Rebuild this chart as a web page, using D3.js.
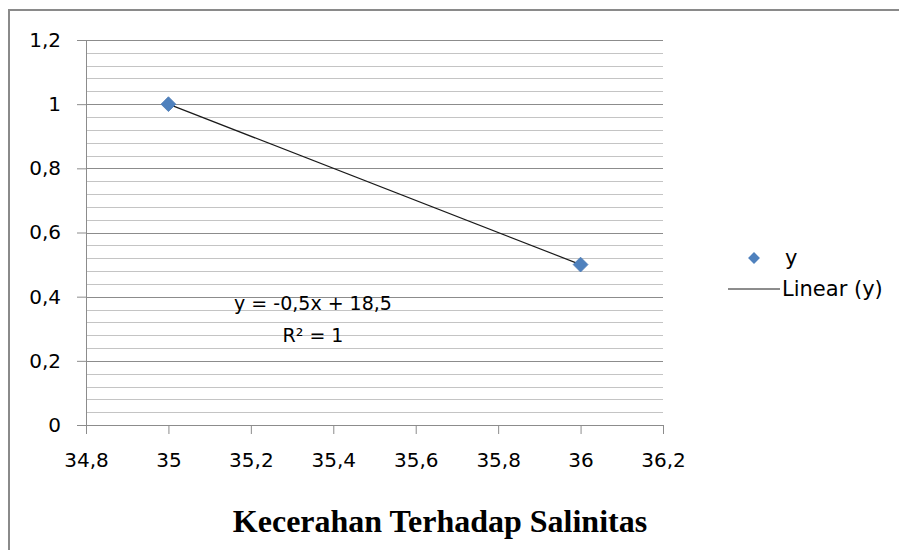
<!DOCTYPE html>
<html>
<head>
<meta charset="utf-8">
<script src="https://cdn.jsdelivr.net/npm/d3@7"></script>
<style>
  body { margin: 0; background: #fff; }
  svg { display: block; }
  .tick text { font-family: "DejaVu Sans", sans-serif; font-size: 20px; fill: #000; }
</style>
</head>
<body>
<svg id="chart"></svg>
<script>
// data
const xValues = [35, 36];
const yValues = [1, 0.5];
const seriesName = 'y';
const trendName = 'Linear (y)';
const xTicks = [34.8, 35, 35.2, 35.4, 35.6, 35.8, 36, 36.2];
const yTicks = [0, 0.2, 0.4, 0.6, 0.8, 1, 1.2];
const chartTitle = 'Kecerahan Terhadap Salinitas';

const width = 899, height = 550;
const margin = { top: 40, right: 236, bottom: 125, left: 86 };

const svg = d3.select('#chart')
    .attr('width', width)
    .attr('height', height);

// outer chart frame (cut by the window on the right and bottom)
svg.append('rect')
    .attr('x', 9).attr('y', 10)
    .attr('width', width + 10).attr('height', height + 10)
    .attr('fill', 'none')
    .attr('stroke', '#8a8a8a')
    .attr('stroke-width', 2);

const x = d3.scaleLinear()
    .domain([xTicks[0], xTicks[xTicks.length - 1]])
    .range([margin.left, width - margin.right]);

const y = d3.scaleLinear()
    .domain([yTicks[0], yTicks[yTicks.length - 1]])
    .range([height - margin.bottom, margin.top]);

const locale = d3.formatLocale({ decimal: ',', thousands: '.', grouping: [3], currency: ['', ''], minus: '-' });
const fmt = locale.format('~f');

// minor gridlines every 0.04
const minor = d3.range(0, 1.2 + 1e-9, 0.04)
    .filter(v => !yTicks.some(t => Math.abs(t - v) < 1e-6));

svg.append('g')
    .selectAll('line')
    .data(minor)
    .join('line')
    .attr('x1', x.range()[0]).attr('x2', x.range()[1])
    .attr('y1', d => Math.round(y(d)) + 0.5)
    .attr('y2', d => Math.round(y(d)) + 0.5)
    .attr('stroke', '#c4c4c4');

// major gridlines
svg.append('g')
    .selectAll('line')
    .data(yTicks.slice(1))
    .join('line')
    .attr('x1', x.range()[0]).attr('x2', x.range()[1])
    .attr('y1', d => Math.round(y(d)) + 0.5)
    .attr('y2', d => Math.round(y(d)) + 0.5)
    .attr('stroke', '#8c8c8c');

// axes
const yAxis = svg.append('g')
    .attr('transform', `translate(${x.range()[0]},0)`)
    .call(d3.axisLeft(y).tickValues(yTicks).tickSize(9).tickPadding(16).tickFormat(fmt));

const xAxis = svg.append('g')
    .attr('transform', `translate(0,${y.range()[0]})`)
    .call(d3.axisBottom(x).tickValues(xTicks).tickSize(9).tickPadding(19).tickFormat(fmt));

[yAxis, xAxis].forEach(a => {
    a.select('.domain').attr('stroke', '#8c8c8c');
    a.selectAll('.tick line').attr('stroke', '#8c8c8c');
});

// least squares trendline through the points
const mx = d3.mean(xValues), my = d3.mean(yValues);
const slope = d3.sum(xValues, (v, i) => (v - mx) * (yValues[i] - my)) /
    d3.sum(xValues, v => (v - mx) ** 2);
const intercept = my - slope * mx;
const xExt = d3.extent(xValues);

svg.append('line')
    .attr('x1', x(xExt[0])).attr('y1', y(slope * xExt[0] + intercept))
    .attr('x2', x(xExt[1])).attr('y2', y(slope * xExt[1] + intercept))
    .attr('stroke', '#1a1a1a')
    .attr('stroke-width', 1.2);

// markers
const diamond = d3.symbol().type(d3.symbolDiamond2).size(140);

svg.append('g')
    .selectAll('path')
    .data(xValues.map((v, i) => [v, yValues[i]]))
    .join('path')
    .attr('d', diamond)
    .attr('transform', d => `translate(${x(d[0])},${y(d[1])})`)
    .attr('fill', '#4f81bd')
    .attr('stroke', '#4a7ab5')
    .attr('stroke-width', 0.8);

// equation label
const eq = svg.append('text')
    .attr('font-family', '"DejaVu Sans", sans-serif')
    .attr('font-size', 19)
    .attr('text-anchor', 'middle')
    .attr('fill', '#000');

const sign = intercept >= 0 ? '+' : '-';
eq.append('tspan')
    .attr('x', 313).attr('y', 310)
    .text(`y = ${fmt(slope)}x ${sign} ${fmt(Math.abs(intercept))}`);
eq.append('tspan')
    .attr('x', 313).attr('y', 342)
    .text('R² = 1');

// legend
const legend = svg.append('g')
    .attr('font-family', '"DejaVu Sans", sans-serif')
    .attr('font-size', 21)
    .attr('fill', '#000');

legend.append('path')
    .attr('d', d3.symbol().type(d3.symbolDiamond2).size(90))
    .attr('transform', 'translate(754,258)')
    .attr('fill', '#4f81bd');

legend.append('text')
    .attr('x', 785).attr('y', 258).attr('dy', '0.35em')
    .text(seriesName);

legend.append('line')
    .attr('x1', 728).attr('x2', 780)
    .attr('y1', 289).attr('y2', 289)
    .attr('stroke', '#1a1a1a');

legend.append('text')
    .attr('x', 782).attr('y', 289).attr('dy', '0.35em')
    .text(trendName);

// title under the chart
svg.append('text')
    .attr('x', 440).attr('y', 532)
    .attr('text-anchor', 'middle')
    .attr('font-family', '"Liberation Serif", "Times New Roman", serif')
    .attr('font-weight', 'bold')
    .attr('font-size', 32)
    .attr('fill', '#000')
    .text(chartTitle);
</script>
</body>
</html>
